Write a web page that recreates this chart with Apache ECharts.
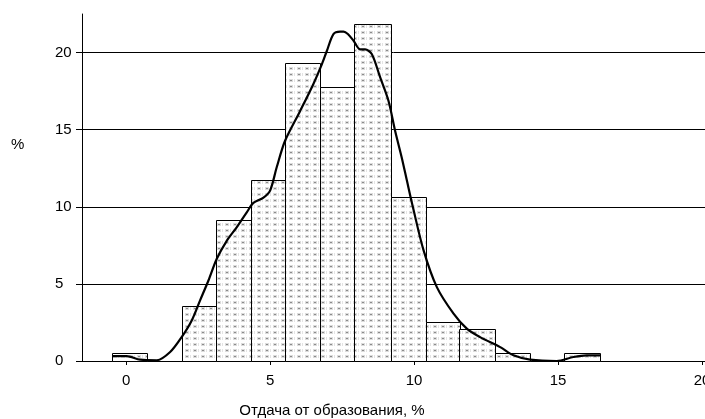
<!DOCTYPE html>
<html>
<head>
<meta charset="utf-8">
<script src="https://cdn.jsdelivr.net/npm/echarts@6/dist/echarts.min.js"></script>
<style>html,body{margin:0;padding:0;background:#fff}#c{width:705px;height:419px}</style>
</head>
<body>
<div id="c"></div>
<script>
// Histogram bin edges (x, %), frequencies (%) per bin
const binEdges = [-0.48, 0.75, 1.93, 3.13, 4.34, 5.52, 6.74, 7.92, 9.2, 10.4, 11.57, 12.82, 14.05, 15.22, 16.47];
const freq = [0.52, 0, 3.54, 9.15, 11.74, 19.35, 17.78, 21.88, 10.66, 2.52, 2.05, 0.52, 0, 0.52];
// Density curve points [x, y]
const curveX = [-0.48, 0.02, 0.49, 1.07, 1.53, 1.93, 2.28, 2.57, 2.86, 3.15, 3.5, 3.84, 4.19, 4.42, 4.77, 5.0, 5.23, 5.52, 6.04, 6.5, 6.8, 6.97, 7.2, 7.43, 7.55, 7.7, 7.9, 8.13, 8.3, 8.53, 8.82, 9.11, 9.34, 9.57, 9.75, 9.95, 10.33, 10.79, 11.37, 11.83, 12.29, 12.99, 13.45, 14.03, 14.95, 15.53, 15.99, 16.46];
const curveY = [0.32, 0.32, 0.09, 0.05, 0.58, 1.55, 2.63, 3.93, 5.22, 6.63, 7.81, 8.67, 9.64, 10.25, 10.6, 11.05, 12.56, 14.28, 16.2, 17.95, 19.25, 20.1, 21.2, 21.36, 21.36, 21.2, 20.76, 20.2, 20.2, 19.9, 18.4, 16.87, 14.93, 13.2, 11.7, 10.05, 7.17, 4.79, 3.07, 2.1, 1.55, 0.9, 0.37, 0.09, 0, 0.26, 0.37, 0.37];
const xTicks = [0, 5, 10, 15, 20];
const yTicks = [0, 5, 10, 15, 20];
const xTitle = 'Отдача от образования, %';
const yTitle = '%';

const barData = freq.map((f, i) => [binEdges[i], binEdges[i + 1], f]);
const lineData = curveX.map((x, i) => [x, curveY[i]]);

// dotted fill pattern
const pc = document.createElement('canvas');
pc.width = 8; pc.height = 6;
const pctx = pc.getContext('2d');
pctx.fillStyle = '#ffffff';
pctx.fillRect(0, 0, 8, 6);
pctx.fillStyle = '#dcdcdc';
pctx.fillRect(1, 1, 4, 3);
pctx.fillStyle = '#8c8c8c';
pctx.fillRect(2, 2, 2, 1);
pctx.fillStyle = '#e4e4e4';
pctx.fillRect(6, 1, 1, 3);

const chart = echarts.init(document.getElementById('c'), null, {renderer: 'canvas'});
const font = 'Arial, "Liberation Sans", sans-serif';
chart.setOption({
  animation: false,
  backgroundColor: '#fff',
  grid: {left: 82, right: 0, top: 14, bottom: 58, outerBoundsMode: 'none', containLabel: false},
  xAxis: {
    type: 'value', min: -1.53, max: 20.1,
    axisLine: {show: true, onZero: false, lineStyle: {color: '#000', width: 1}},
    axisTick: {show: true, customValues: xTicks, length: 4, lineStyle: {color: '#000'}},
    axisLabel: {customValues: xTicks, color: '#000', fontSize: 15, fontFamily: font, margin: 12},
    splitLine: {show: false}
  },
  yAxis: {
    type: 'value', min: 0, max: 22.5, interval: 5,
    axisLine: {show: true, onZero: false, lineStyle: {color: '#000', width: 1}},
    axisTick: {show: true, customValues: yTicks, length: 6, lineStyle: {color: '#000'}},
    axisLabel: {customValues: yTicks, color: '#000', fontSize: 15, fontFamily: font, align: 'left', margin: 27},
    splitLine: {show: true, lineStyle: {color: '#000', width: 1}}
  },
  graphic: [
    {type: 'text', left: 11, top: 137, style: {text: yTitle, fontSize: 15, fontFamily: font, fill: '#000'}},
    {type: 'text', x: 332, y: 411, style: {text: xTitle, fontSize: 15, fontFamily: font, fill: '#000', align: 'center', verticalAlign: 'middle'}}
  ],
  series: [
    {
      type: 'custom',
      data: barData,
      encode: {x: [0, 1], y: 2},
      z: 2,
      renderItem: function (params, api) {
        const p0 = api.coord([api.value(0), 0]);
        const p1 = api.coord([api.value(1), api.value(2)]);
        if (api.value(2) <= 0) return null;
        return {
          type: 'rect',
          shape: {x: Math.round(p0[0]) + 0.5, y: Math.round(p1[1]) + 0.5, width: Math.round(p1[0] - p0[0]), height: Math.round(p0[1] - p1[1])},
          style: {fill: {image: pc, repeat: 'repeat'}, stroke: '#000', lineWidth: 1}
        };
      }
    },
    {
      type: 'line',
      data: lineData,
      smooth: 0.3,
      showSymbol: false,
      z: 3,
      lineStyle: {color: '#000', width: 2.2}
    }
  ]
});
</script>
</body>
</html>
